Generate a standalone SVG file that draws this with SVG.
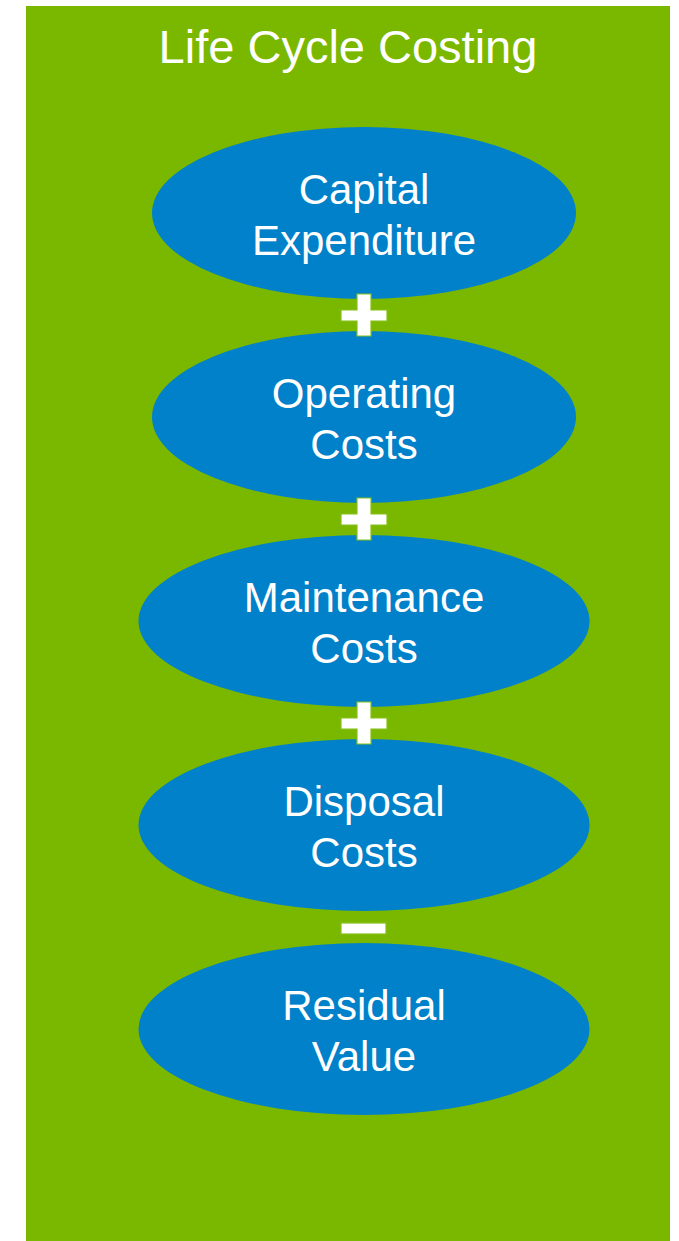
<svg xmlns="http://www.w3.org/2000/svg" width="679" height="1241" viewBox="0 0 679 1241">
  <style>
    .node { fill: #0081C9; }
    .lbl { font-family: "Liberation Sans", Arial, sans-serif; font-size: 42px; fill: #FFFFFF; text-anchor: middle; }
    .title { font-family: "Liberation Sans", Arial, sans-serif; font-size: 47px; fill: #FFFFFF; text-anchor: middle; }
    .op { fill: #FFFFFF; stroke: #86C01A; stroke-width: 1.2; }
  </style>
  <rect x="0" y="0" width="679" height="1241" fill="#FFFFFF"/>
  <g id="frame">
    <rect x="26" y="6" width="644" height="1235" fill="#7AB800"/>
    <text class="title" x="348" y="62.5">Life Cycle Costing</text>
  </g>
  <g id="node-capital">
    <ellipse class="node" cx="364" cy="213" rx="212" ry="86"/>
    <text class="lbl" x="364" y="203.5">Capital</text>
    <text class="lbl" x="364" y="255">Expenditure</text>
  </g>
  <g id="node-operating">
    <ellipse class="node" cx="364" cy="417" rx="212" ry="86"/>
    <text class="lbl" x="364" y="407.5">Operating</text>
    <text class="lbl" x="364" y="459">Costs</text>
  </g>
  <g id="node-maintenance">
    <ellipse class="node" cx="364" cy="621" rx="225.5" ry="86"/>
    <text class="lbl" x="364" y="611.5">Maintenance</text>
    <text class="lbl" x="364" y="663">Costs</text>
  </g>
  <g id="node-disposal">
    <ellipse class="node" cx="364" cy="825" rx="225.5" ry="86"/>
    <text class="lbl" x="364" y="815.5">Disposal</text>
    <text class="lbl" x="364" y="867">Costs</text>
  </g>
  <g id="node-residual">
    <ellipse class="node" cx="364" cy="1029" rx="225.5" ry="86"/>
    <text class="lbl" x="364" y="1019.5">Residual</text>
    <text class="lbl" x="364" y="1071">Value</text>
  </g>
  <g id="connectors">
    <path class="op" d="M357,294 H371 V310 H387 V321 H371 V336 H357 V321 H341 V310 H357 Z"/>
    <path class="op" d="M357,498 H371 V514 H387 V525 H371 V540 H357 V525 H341 V514 H357 Z"/>
    <path class="op" d="M357,702 H371 V718 H387 V729 H371 V744 H357 V729 H341 V718 H357 Z"/>
    <rect class="op" x="341" y="923" width="45" height="11"/>
  </g>
</svg>
